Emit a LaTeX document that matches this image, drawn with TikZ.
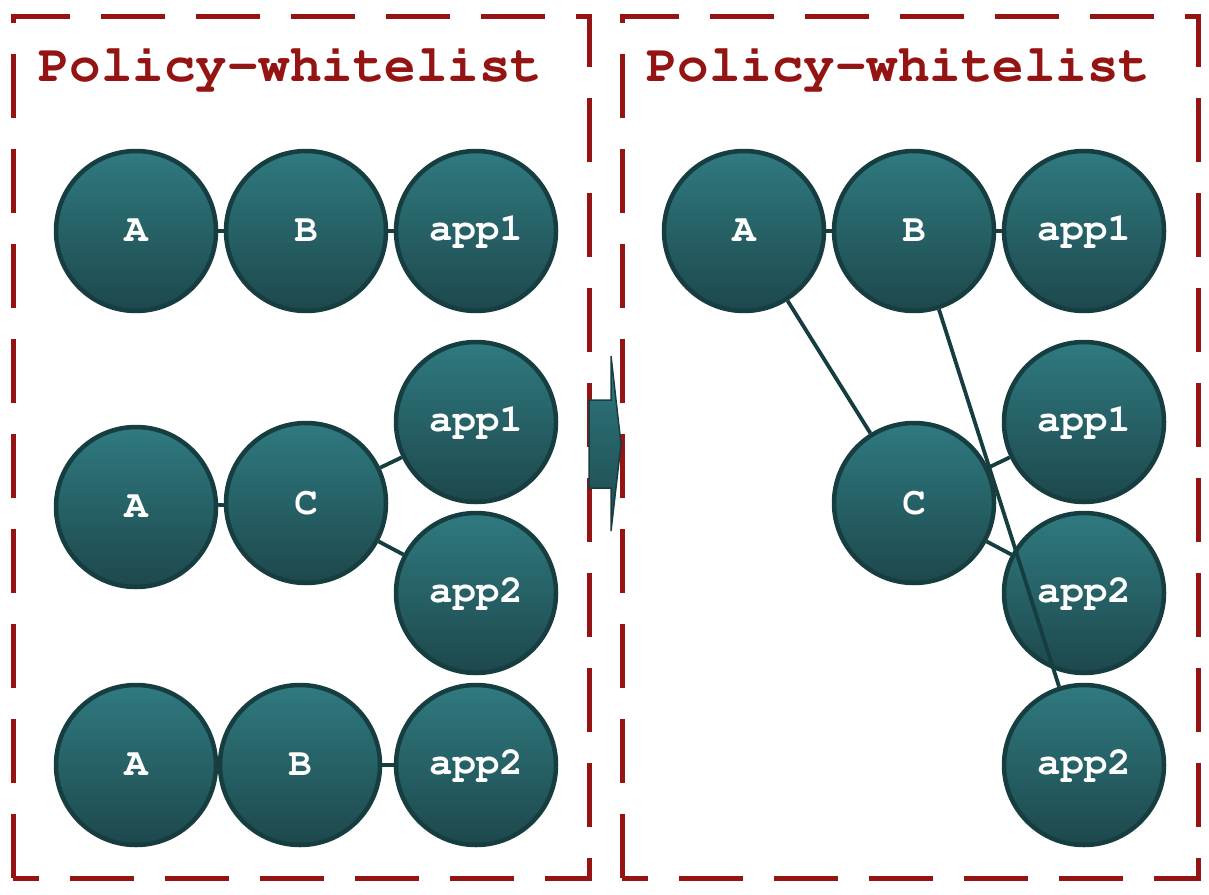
\documentclass[tikz,border=0pt]{standalone}
\usepackage[T1]{fontenc}
\usetikzlibrary{positioning}
\definecolor{teal top}{HTML}{2F7A80}
\definecolor{teal bot}{HTML}{1D484C}
\definecolor{teal line}{HTML}{163D40}
\definecolor{policy red}{HTML}{941414}
\newcommand\podfont{\usefont{T1}{pcr}{b}{n}}
\tikzset{pod/.style = {circle,minimum size=160pt,inner sep=0pt,line width=4.5pt,draw=teal line,
            top color=teal top,bottom color=teal bot,text=white,
            font=\podfont\fontsize{39}{42}\selectfont},
    link/.style = {draw=teal line,line width=3.8pt},
    frame/.style = {draw=policy red,line width=5pt,dash pattern=on 64pt off 31pt},
    title/.style = {anchor=west,inner sep=0pt,text=policy red,
            font=\podfont\fontsize{52.5}{56}\selectfont}
}
\begin{document}
\begin{tikzpicture}[x=1pt,y=-1pt]
    \useasboundingbox (0,0) rectangle (1209,894);
    % the two whitelists
    \draw[frame] (13,878) -- (13,16) -- (589,16) -- (589,878) -- cycle;
    \draw[frame] (622,878) -- (622,16) -- (1198,16) -- (1198,878) -- cycle;
    \node[title] (t1) at (38,68) {Policy-whitelist};
    \node[title] (t2) at (646,68) {Policy-whitelist};

    % left: three chains
    \node[pod] (a1) at (136,231) {A};
    \node[pod] (b1) at (306,231) {B};
    \node[pod] (p1) at (476,231) {app1};
    \node[pod] (a2) at (136,507) {A};
    \node[pod] (c2) at (306,503) {C};
    \node[pod] (p2) at (476,422) {app1};
    \node[pod] (q2) at (476,593) {app2};
    \node[pod] (a3) at (136,765) {A};
    \node[pod] (b3) at (300,765) {B};
    \node[pod] (q3) at (476,765) {app2};
    \foreach \u/\v in {a1/b1,b1/p1,a2/c2,c2/p2,c2/q2,a3/b3,b3/q3}
        \draw[link] (\u) -- (\v);

    % merge arrow
    \draw[teal line,line width=1.5pt,top color=teal top,bottom color=teal bot]
        (589,400) -- (611,400) -- (611,356) -- (621,444) -- (611,531) -- (611,488) -- (589,488) -- cycle;

    % right: merged graph
    \node[pod] (ra) at (744,231) {A};
    \node[pod] (rb) at (914,231) {B};
    \node[pod] (rp) at (1084,231) {app1};
    \node[pod] (rc) at (914,503) {C};
    \node[pod] (rp2) at (1084,422) {app1};
    \node[pod] (rq2) at (1084,593) {app2};
    \node[pod] (rq3) at (1084,765) {app2};
    \foreach \u/\v in {ra/rb,rb/rp,ra/rc,rc/rp2,rc/rq2,rb/rq3}
        \draw[link] (\u) -- (\v);
\end{tikzpicture}
\end{document}
